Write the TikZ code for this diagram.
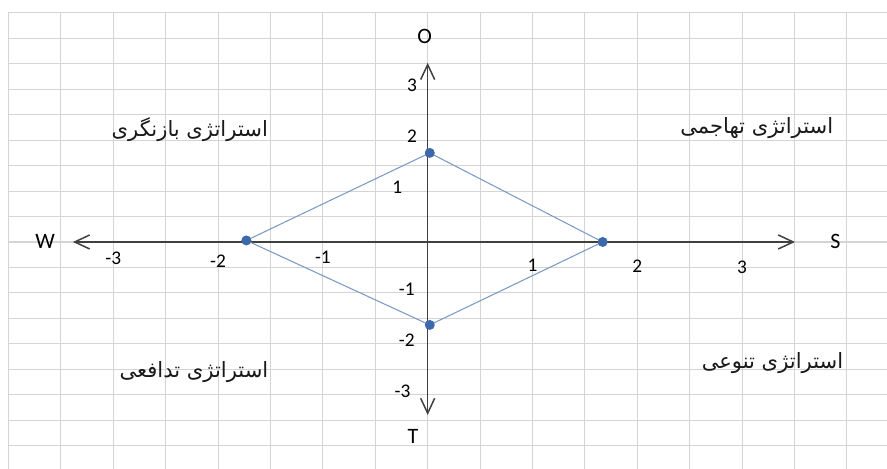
\documentclass[tikz,border=0pt]{standalone}
\usepackage{fontspec}
\usepackage{xcolor}
\usetikzlibrary{arrows.meta}
\setmainfont{Carlito}
\newfontfamily\arabicfont[Script=Arabic]{DejaVu Sans}
\TeXXeTstate=1
\definecolor{gridgray}{RGB}{212,212,212}
\definecolor{axisgray}{RGB}{64,64,64}
\definecolor{edgeblue}{RGB}{124,154,198}
\definecolor{dotblue}{RGB}{62,104,172}

\begin{document}
\begin{tikzpicture}[x=2.096cm, y=1.018cm,
    axisline/.style={axisgray, line width=0.85pt, {Straight Barb[length=3mm,width=2.8mm]}-{Straight Barb[length=3mm,width=2.8mm]}},
    axislabel/.style={font=\fontsize{12.5}{14}\selectfont, text=black},
    ticklabel/.style={font=\fontsize{11}{13}\selectfont, text=black, inner sep=0pt},
    strategy/.style={font=\arabicfont\fontsize{12}{14}\selectfont, text=black!90},
    dot/.style={circle, fill=dotblue, minimum size=0.2cm, inner sep=0pt}]
  % Page size and background
  \useasboundingbox (-4.081,-4.46) rectangle (4.383,4.754);
  \fill[white] (-4.081,-4.46) rectangle (4.383,4.754);

  % Background grid
  \draw[gridgray, line width=0.6pt] (-4,-4.46) grid[xstep=0.5, ystep=0.5] (4.383,4.5);

  % Axes
  \coordinate (xneg) at (-3.385,0);
  \coordinate (xpos) at (3.505,0);
  \coordinate (ypos) at (0,3.52);
  \coordinate (yneg) at (0,-3.40);
  \draw[axisline] (xneg) -- (xpos);
  \draw[axisline] (yneg) -- (ypos);
  \node[axislabel] (W) at (-3.65,0.02) {W};
  \node[axislabel] (S) at (3.89,0.02) {S};
  \node[axislabel] (O) at (-0.03,4.03) {O};
  \node[axislabel] (T) at (-0.14,-3.83) {T};

  % Tick labels
  \foreach \x/\dy in {-3/-0.33, -2/-0.37, -1/-0.31, 1/-0.45, 2/-0.47, 3/-0.49} {
    \node[ticklabel] (xt\x) at (\x,\dy) {\x};
  }
  \foreach \y/\dx in {3/-0.15, 2/-0.15, 1/-0.29, -1/-0.2, -2/-0.2, -3/-0.24} {
    \node[ticklabel] (yt\y) at (\dx,\y+0.07) {\y};
  }

  % Strategy diamond
  \coordinate (pW) at (-1.73,0.03);
  \coordinate (pS) at (1.67,0);
  \coordinate (pO) at (0.02,1.75);
  \coordinate (pT) at (0.02,-1.63);
  \draw[edgeblue, line width=0.6pt] (pW) -- (pO) -- (pS) -- (pT) -- cycle;
  \foreach \p in {pW, pS, pO, pT} {
    \node[dot] (d\p) at (\p) {};
  }

  % Quadrant names
  \node[strategy] (revise) at (-2.27,2.2) {\beginR استراتژی بازنگری\endR};
  \node[strategy] (attack) at (3.14,2.24) {\beginR استراتژی تهاجمی\endR};
  \node[strategy] (defend) at (-2.23,-2.55) {\beginR استراتژی تدافعی\endR};
  \node[strategy] (divers) at (3.29,-2.38) {\beginR استراتژی تنوعی\endR};
\end{tikzpicture}
\end{document}
